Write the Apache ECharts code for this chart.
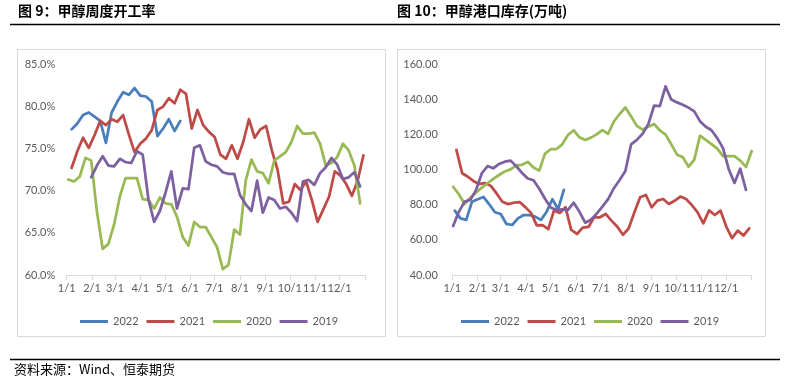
<!DOCTYPE html>
<html>
<head>
<meta charset="utf-8">
<script src="https://cdn.jsdelivr.net/npm/echarts@6/dist/echarts.min.js"></script>
<style>
html,body{margin:0;padding:0;background:#fff;}
#c{width:787px;height:386px;}
</style>
</head>
<body>
<div id="c"></div>
<script>
// ---------- DATA ----------
const seriesNames = ['2022', '2021', '2020', '2019'];
const monthStartDays = [0, 31, 59, 90, 120, 151, 181, 212, 243, 273, 304, 334];
const monthLabels = ['1/1', '2/1', '3/1', '4/1', '5/1', '6/1', '7/1', '8/1', '9/1', '10/1', '11/1', '12/1'];

// Figure 9: weekly methanol operating rate (%), first-week day-of-year offset
const rate2022Start = 6;
const rate2022 = [77.3, 78.0, 79.0, 79.3, 78.8, 78.3, 75.7, 79.3, 80.6, 81.7, 81.4, 82.2, 81.3, 81.2, 80.6, 76.5, 77.4, 78.5, 77.1, 78.3];
const rate2021Start = 6;
const rate2021 = [72.7, 74.7, 76.3, 75.1, 76.6, 78.3, 77.8, 78.5, 78.2, 79.0, 76.7, 74.6, 75.6, 76.2, 77.2, 79.6, 80.0, 81.0, 80.4, 82.0,
  81.5, 77.4, 79.6, 77.8, 77.0, 76.4, 74.3, 73.8, 75.4, 73.8, 75.8, 78.5, 76.3, 77.3, 77.7, 74.8, 72.5, 68.5, 68.7, 70.8,
  70.1, 71.1, 68.9, 66.3, 67.8, 69.3, 72.3, 71.8, 70.8, 69.4, 71.2, 74.2];
const rate2020Start = 2;
const rate2020 = [71.35, 71.1, 71.7, 73.9, 73.6, 67.5, 63.1, 63.7, 66.0, 69.3, 71.5, 71.5, 71.5, 69.0, 68.9, 67.9, 69.2, 68.5, 68.4, 66.9,
  64.5, 63.5, 66.3, 65.7, 65.7, 64.5, 63.3, 60.7, 61.2, 65.4, 64.8, 71.2, 73.7, 72.3, 72.1, 70.9, 73.6, 74.1, 74.6, 75.8,
  77.7, 76.8, 76.8, 76.9, 75.6, 73.0, 73.3, 74.0, 75.6, 74.8, 73.0, 68.5];
const rate2019Start = 30;
const rate2019 = [71.6, 73.0, 74.1, 73.0, 72.9, 73.8, 73.4, 73.3, 74.7, 74.3, 69.0, 66.3, 67.6, 69.8, 72.3, 67.9, 70.3, 70.2, 75.1, 75.4,
  73.5, 73.1, 72.9, 72.2, 72.0, 72.0, 69.5, 68.4, 67.6, 71.2, 67.4, 69.2, 68.9, 67.9, 68.1, 67.4, 66.4, 71.1, 71.3, 70.7,
  72.1, 72.8, 73.9, 73.1, 71.4, 71.6, 72.2, 70.5];

// Figure 10: methanol port inventory (10k tonnes)
const stock2022Start = 3;
const stock2022 = [76.7, 72.3, 71.4, 81.8, 83.2, 84.5, 80.3, 75.8, 74.8, 69.1, 68.5, 72.3, 74.2, 74.2, 73.3, 71.4, 76.1, 83.2, 77.5, 88.5];
const stock2021Start = 5;
const stock2021 = [111.3, 98.0, 96.0, 93.5, 91.9, 92.4, 90.8, 86.5, 81.8, 80.4, 81.2, 81.6, 78.7, 75.4, 68.3, 68.4, 66.1, 76.8, 75.4, 78.6,
  65.7, 63.4, 67.0, 67.4, 73.0, 72.9, 74.8, 71.0, 67.7, 62.9, 66.5, 75.8, 84.3, 85.6, 78.6, 82.4, 83.3, 80.5, 82.3, 84.7,
  83.3, 79.9, 75.7, 69.4, 76.8, 74.2, 76.7, 67.6, 61.0, 65.3, 62.5, 66.6];
const stock2020Start = 1;
const stock2020 = [90.3, 86.0, 80.5, 84.0, 87.0, 89.8, 92.3, 94.8, 97.0, 99.0, 100.2, 102.5, 102.8, 104.5, 101.3, 99.5, 109.2, 111.7, 111.8, 114.5,
  119.8, 122.5, 118.5, 117.0, 118.3, 120.2, 122.6, 120.5, 127.5, 131.8, 135.5, 130.3, 125.0, 122.9, 124.5, 126.1, 122.4, 120.0, 114.5, 108.6,
  107.2, 101.7, 105.8, 119.4, 117.0, 114.6, 112.0, 107.8, 107.8, 107.8, 105.2, 101.6, 110.7];
const stock2019Start = 1;
const stock2019 = [67.9, 76.0, 81.8, 82.8, 88.5, 98.0, 102.1, 100.8, 103.3, 104.6, 105.2, 102.0, 98.2, 95.0, 94.0, 89.2, 83.5, 78.5, 77.1, 77.4,
  77.1, 81.2, 76.0, 69.8, 71.5, 75.0, 79.0, 83.3, 89.5, 94.2, 99.3, 114.5, 117.0, 120.5, 126.0, 136.5, 136.3, 147.5, 140.0, 138.4,
  137.1, 135.4, 133.3, 127.7, 124.5, 122.5, 118.0, 112.3, 100.3, 92.5, 100.6, 88.5];

// ---------- BUILD ----------
const colors = ['#4a7ebb', '#be4b48', '#98b954', '#7d60a0'];
function weekly(start, vals) { return vals.map((v, i) => [start + 7 * i, v]); }
const FONT = 'Lato, "Noto Sans", sans-serif';
const CJK = '"Noto Sans CJK SC", sans-serif';

function lineSeries(name, idx, data, color) {
  return {
    name: name, type: 'line', xAxisIndex: idx, yAxisIndex: idx, data: data,
    showSymbol: false, symbol: 'none', smooth: false, animation: false,
    lineStyle: { color: color, width: 2.75, cap: 'round', join: 'round' },
    itemStyle: { color: color }
  };
}

function xAxis(idx) {
  return {
    type: 'value', gridIndex: idx, min: 0, max: 365,
    axisLine: { show: true, lineStyle: { color: '#d9d9d9', width: 1 } },
    axisTick: { show: true, length: 5, lineStyle: { color: '#d9d9d9' }, customValues: monthStartDays.concat([365]) },
    axisLabel: {
      show: true, customValues: monthStartDays, color: '#595959', fontSize: 11, fontFamily: FONT, margin: 8,
      formatter: function (v) { const i = monthStartDays.indexOf(Math.round(v)); return i >= 0 ? monthLabels[i] : ''; }
    },
    splitLine: { show: false }
  };
}

function legend(left) {
  return {
    data: seriesNames, left: left, top: 311, orient: 'horizontal', icon: 'rect',
    itemWidth: 28, itemHeight: 3, itemGap: 8,
    textStyle: { color: '#595959', fontSize: 11, fontFamily: FONT }
  };
}

const option = {
  animation: false,
  backgroundColor: '#ffffff',
  grid: [
    { left: 66.7, right: 787 - 365, top: 64.5, bottom: 386 - 275 },
    { left: 452.3, right: 787 - 751.7, top: 64.5, bottom: 386 - 275 }
  ],
  xAxis: [xAxis(0), xAxis(1)],
  yAxis: [
    {
      type: 'value', gridIndex: 0, min: 60, max: 85, interval: 5,
      axisLine: { show: false }, axisTick: { show: false }, splitLine: { show: false },
      axisLabel: { color: '#595959', fontSize: 11, fontFamily: FONT, margin: 11.5, formatter: v => v.toFixed(1) + '%' }
    },
    {
      type: 'value', gridIndex: 1, min: 40, max: 160, interval: 20,
      axisLine: { show: false }, axisTick: { show: false }, splitLine: { show: false },
      axisLabel: { color: '#595959', fontSize: 11, fontFamily: FONT, margin: 14.5, formatter: v => v.toFixed(2) }
    }
  ],
  legend: [legend(75), legend(456)],
  series: [
    lineSeries(seriesNames[0], 0, weekly(rate2022Start, rate2022), colors[0]),
    lineSeries(seriesNames[1], 0, weekly(rate2021Start, rate2021), colors[1]),
    lineSeries(seriesNames[2], 0, weekly(rate2020Start, rate2020), colors[2]),
    lineSeries(seriesNames[3], 0, weekly(rate2019Start, rate2019), colors[3]),
    lineSeries(seriesNames[0], 1, weekly(stock2022Start, stock2022), colors[0]),
    lineSeries(seriesNames[1], 1, weekly(stock2021Start, stock2021), colors[1]),
    lineSeries(seriesNames[2], 1, weekly(stock2020Start, stock2020), colors[2]),
    lineSeries(seriesNames[3], 1, weekly(stock2019Start, stock2019), colors[3])
  ],
  graphic: [
    { type: 'rect', z: -1, shape: { x: 17.5, y: 49.5, width: 368, height: 287 }, style: { fill: null, stroke: '#d9d9d9', lineWidth: 1 } },
    { type: 'rect', z: -1, shape: { x: 397.5, y: 49.5, width: 368, height: 287 }, style: { fill: null, stroke: '#d9d9d9', lineWidth: 1 } },
    { type: 'text', left: 18, top: 4, style: { text: '图 9：甲醇周度开工率', font: 'bold 14px ' + CJK, fill: '#000' } },
    { type: 'text', left: 397, top: 4, style: { text: '图 10：甲醇港口库存(万吨)', font: 'bold 14px ' + CJK, fill: '#000' } },
    { type: 'line', shape: { x1: 10, y1: 24.5, x2: 780, y2: 24.5 }, style: { stroke: '#000', lineWidth: 1.5 } },
    { type: 'line', shape: { x1: 10, y1: 359.5, x2: 780, y2: 359.5 }, style: { stroke: '#000', lineWidth: 1.5 } },
    { type: 'text', left: 14, top: 363, style: { text: '资料来源：Wind、恒泰期货', font: '13px ' + CJK, fill: '#000' } }
  ]
};

const chart = echarts.init(document.getElementById('c'), null, { renderer: 'canvas' });
chart.setOption(option);
</script>
</body>
</html>
